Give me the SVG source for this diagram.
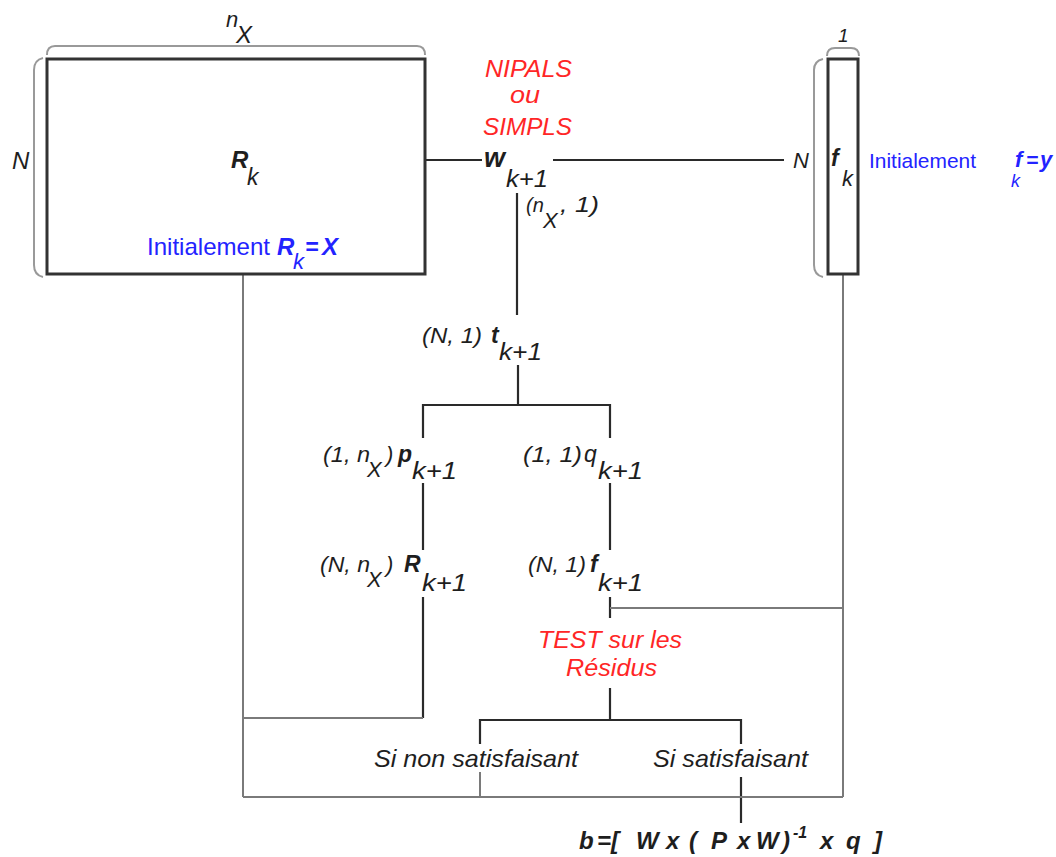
<svg xmlns="http://www.w3.org/2000/svg" width="1056" height="857" viewBox="0 0 1056 857">
<style>
text { font-family: "Liberation Sans", Arial, sans-serif; font-style: italic; fill: #1e1e1e; }
.b { font-weight: bold; }
.blue { fill: #2323ff; }
.red { fill: #ff2626; }
.up { font-style: normal; }
.d { font-size: 22px; }
.m { font-size: 23px; }
.box { fill: #fff; stroke: #333; stroke-width: 3; }
.brace { fill: none; stroke: #999; stroke-width: 2; }
.dk { stroke: #2a2a2a; stroke-width: 2.2; fill: none; }
.gy { stroke: #7a7a7a; stroke-width: 2; fill: none; }
</style>
<rect x="0" y="0" width="1056" height="857" fill="#fff"/>

<g id="connectors">
  <line class="dk" x1="425" y1="160" x2="482" y2="160"/>
  <line class="dk" x1="553" y1="160" x2="784" y2="160"/>
  <line class="dk" x1="517" y1="193" x2="517" y2="315"/>
  <line class="dk" x1="518" y1="365" x2="518" y2="405"/>
  <polyline class="dk" points="423,438 423,405 610,405 610,438"/>
  <line class="dk" x1="423" y1="483" x2="423" y2="550"/>
  <line class="dk" x1="610" y1="483" x2="610" y2="550"/>
  <line class="dk" x1="423" y1="597" x2="423" y2="718"/>
  <line class="dk" x1="610" y1="597" x2="610" y2="618"/>
  <line class="dk" x1="610" y1="688" x2="610" y2="720"/>
  <polyline class="dk" points="480,744 480,720 741,720 741,744"/>
  <line class="dk" x1="741" y1="777" x2="741" y2="823"/>
  <line class="gy" x1="243" y1="274" x2="243" y2="797"/>
  <line class="gy" x1="843" y1="274" x2="843" y2="797"/>
  <line class="gy" x1="243" y1="718" x2="423" y2="718"/>
  <line class="gy" x1="610" y1="608" x2="843" y2="608"/>
  <line class="gy" x1="243" y1="797" x2="843" y2="797"/>
  <line class="gy" x1="480" y1="772" x2="480" y2="797"/>
</g>

<g id="node-R">
  <rect class="box" x="47" y="59" width="378" height="215"/>
  <path class="brace" d="M47,55 Q47,46 55,46 L417,46 Q425,46 425,55"/>
  <path class="brace" d="M43,58 Q34,60 34,70 L34,265 Q34,275 43,277"/>
  <text x="226" y="27" font-size="22">n</text>
  <text x="236" y="43" font-size="24">X</text>
  <text x="12" y="169" font-size="24">N</text>
  <text x="231" y="168" class="b" font-size="24">R</text>
  <text x="247" y="185" font-size="23">k</text>
  <text x="147" y="255" font-size="24" class="blue up" textLength="123" lengthAdjust="spacingAndGlyphs">Initialement</text>
  <text x="277" y="255" font-size="24" class="blue b">R</text>
  <text x="293" y="269" font-size="22" class="blue">k</text>
  <text x="305" y="255" font-size="23" class="blue b">=</text>
  <text x="322" y="255" font-size="24" class="blue b">X</text>
</g>

<g id="node-f">
  <rect class="box" x="828" y="59" width="30" height="215"/>
  <path class="brace" d="M827,56 Q827,48 835,48 L851,48 Q859,48 859,56"/>
  <path class="brace" d="M823,59 Q814,61 814,70 L814,265 Q814,275 823,277"/>
  <text x="838" y="42" font-size="19">1</text>
  <text x="793" y="168" font-size="22">N</text>
  <text x="831" y="166" class="b" font-size="23">f</text>
  <text x="842" y="186" font-size="22">k</text>
  <text x="869" y="168" font-size="21" class="blue up" textLength="107" lengthAdjust="spacingAndGlyphs">Initialement</text>
  <text x="1015" y="167" font-size="22" class="blue b">f</text>
  <text x="1011" y="187" font-size="18" class="blue">k</text>
  <text x="1026" y="167" font-size="21" class="blue b">=</text>
  <text x="1040" y="167" font-size="22" class="blue b">y</text>
</g>

<g id="node-w">
  <text x="485" y="77" font-size="23" class="red" textLength="87" lengthAdjust="spacingAndGlyphs">NIPALS</text>
  <text x="510" y="103" font-size="23" class="red" textLength="30" lengthAdjust="spacingAndGlyphs">ou</text>
  <text x="483" y="135" font-size="23" class="red" textLength="89" lengthAdjust="spacingAndGlyphs">SIMPLS</text>
  <text x="484" y="167" font-size="27" class="b">w</text>
  <text x="506" y="187" font-size="23" textLength="42" lengthAdjust="spacingAndGlyphs">k+1</text>
  <text x="526" y="212" font-size="20">(n</text>
  <text x="543" y="228" class="d">X</text>
  <text x="560" y="212" class="d" textLength="39" lengthAdjust="spacingAndGlyphs">, 1)</text>
</g>

<g id="node-t">
  <text x="422" y="343" class="d" textLength="60" lengthAdjust="spacingAndGlyphs">(N, 1)</text>
  <text x="491" y="343" class="b m">t</text>
  <text x="499" y="360" class="m" textLength="43" lengthAdjust="spacingAndGlyphs">k+1</text>
</g>

<g id="node-p">
  <text x="323" y="462" class="d" textLength="47" lengthAdjust="spacingAndGlyphs">(1, n</text>
  <text x="367" y="477" class="d">X</text>
  <text x="386" y="462" class="d">)</text>
  <text x="398" y="462" class="b m">p</text>
  <text x="412" y="479" class="m" textLength="45" lengthAdjust="spacingAndGlyphs">k+1</text>
</g>

<g id="node-q">
  <text x="523" y="462" class="d" textLength="59" lengthAdjust="spacingAndGlyphs">(1, 1)</text>
  <text x="584" y="462" class="m">q</text>
  <text x="598" y="479" class="m" textLength="45" lengthAdjust="spacingAndGlyphs">k+1</text>
</g>

<g id="node-R1">
  <text x="320" y="572" class="d" textLength="50" lengthAdjust="spacingAndGlyphs">(N, n</text>
  <text x="367" y="587" class="d">X</text>
  <text x="386" y="572" class="d">)</text>
  <text x="404" y="572" class="b m">R</text>
  <text x="422" y="591" class="m" textLength="45" lengthAdjust="spacingAndGlyphs">k+1</text>
</g>

<g id="node-f1">
  <text x="528" y="572" class="d" textLength="58" lengthAdjust="spacingAndGlyphs">(N, 1)</text>
  <text x="590" y="572" class="b m">f</text>
  <text x="598" y="591" class="m" textLength="45" lengthAdjust="spacingAndGlyphs">k+1</text>
</g>

<g id="node-test">
  <text x="538" y="648" font-size="23" class="red" textLength="144" lengthAdjust="spacingAndGlyphs">TEST sur les</text>
  <text x="566" y="676" font-size="23" class="red" textLength="91" lengthAdjust="spacingAndGlyphs">Résidus</text>
</g>

<g id="node-nonsat">
  <text x="374" y="767" font-size="24" textLength="204" lengthAdjust="spacingAndGlyphs">Si non satisfaisant</text>
</g>

<g id="node-sat">
  <text x="653" y="767" font-size="24" textLength="155" lengthAdjust="spacingAndGlyphs">Si satisfaisant</text>
</g>

<g id="node-b">
  <text y="849" font-size="24" class="b"><tspan x="579">b</tspan><tspan x="597">=</tspan><tspan x="611">[</tspan><tspan x="636">W</tspan><tspan x="666">x</tspan><tspan x="689">(</tspan><tspan x="711">P</tspan><tspan x="737">x</tspan><tspan x="756">W</tspan><tspan x="782">)</tspan><tspan x="793" y="838" font-size="16">-1</tspan><tspan x="820" y="849">x</tspan><tspan x="846">q</tspan><tspan x="874">]</tspan></text>
</g>
</svg>
